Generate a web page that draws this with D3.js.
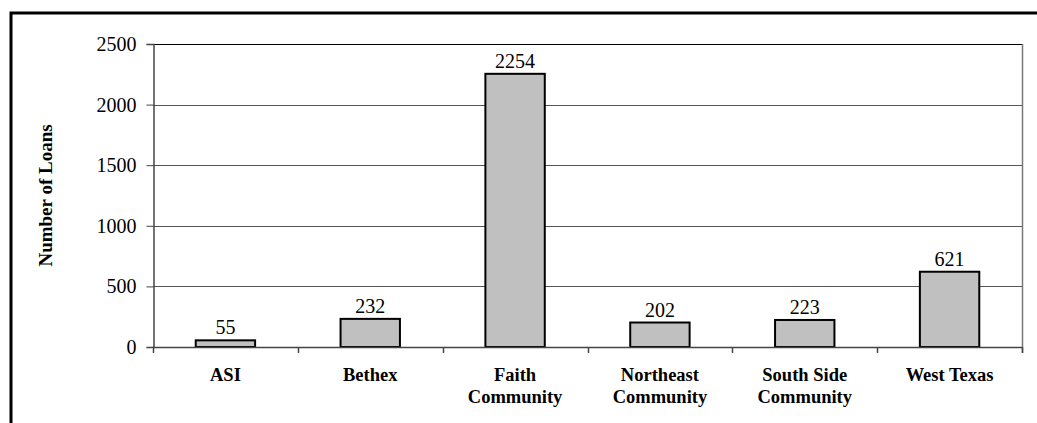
<!DOCTYPE html>
<html>
<head>
<meta charset="utf-8">
<script src="https://cdn.jsdelivr.net/npm/d3@7"></script>
<style>
  body { margin: 0; background: #fff; }
  text { font-family: "Liberation Serif", "Times New Roman", serif; }
</style>
</head>
<body>
<div id="chart"></div>
<script>
var w = 1037;
var h = 423;

// data
var categories = [["ASI"], ["Bethex"], ["Faith", "Community"], ["Northeast", "Community"],
    ["South Side", "Community"], ["West Texas"]];
var loans = [55, 232, 2254, 202, 223, 621];
var yTicks = [0, 500, 1000, 1500, 2000, 2500];

var plotLeft = 153, plotRight = 1022, plotTop = 44, plotBottom = 347;

var svg = d3.select("#chart")
    .append("svg")
    .attr("width", w)
    .attr("height", h);

// outer frame (clipped at right and bottom, like the picture)
svg.append("rect")
    .attr("x", 11).attr("y", 13)
    .attr("width", w + 10).attr("height", h + 10)
    .attr("fill", "none")
    .attr("stroke", "#000")
    .attr("stroke-width", 3);

var x = d3.scaleBand()
    .domain(d3.range(categories.length))
    .range([plotLeft, plotRight])
    .paddingInner(0.59)
    .paddingOuter(0.295);

var y = d3.scaleLinear()
    .domain([0, 2500])
    .range([plotBottom, plotTop]);

// gridlines
svg.selectAll("line.grid")
    .data(yTicks.slice(1))
    .enter()
    .append("line")
    .attr("class", "grid")
    .attr("x1", plotLeft).attr("x2", plotRight)
    .attr("y1", function (d) { return Math.round(y(d)) + 0.5; })
    .attr("y2", function (d) { return Math.round(y(d)) + 0.5; })
    .attr("stroke", function (d) { return d === 2500 ? "#000" : "#555"; })
    .attr("stroke-width", 1);

// right border of plot area
svg.append("line")
    .attr("x1", plotRight + 0.5).attr("x2", plotRight + 0.5)
    .attr("y1", plotTop).attr("y2", plotBottom + 6)
    .attr("stroke", "#777")
    .attr("stroke-width", 1.5);

// bars
svg.selectAll("rect.bar")
    .data(loans)
    .enter()
    .append("rect")
    .attr("class", "bar")
    .attr("x", function (d, i) { return x(i); })
    .attr("y", function (d) { return y(d); })
    .attr("width", x.bandwidth())
    .attr("height", function (d) { return plotBottom - y(d); })
    .attr("fill", "#c0c0c0")
    .attr("stroke", "#000")
    .attr("stroke-width", 2);

// value labels
svg.selectAll("text.val")
    .data(loans)
    .enter()
    .append("text")
    .attr("class", "val")
    .attr("x", function (d, i) { return x(i) + x.bandwidth() / 2; })
    .attr("y", function (d) { return y(d) - 6; })
    .attr("text-anchor", "middle")
    .attr("font-size", 20)
    .text(function (d) { return d; });

// y axis
var yAxis = d3.axisLeft(y)
    .tickValues(yTicks)
    .tickSize(7)
    .tickPadding(10)
    .tickFormat(d3.format("d"));
var gy = svg.append("g")
    .attr("transform", "translate(" + (plotLeft + 0.5) + ",0)")
    .call(yAxis);
gy.select(".domain").attr("stroke", "#444").attr("stroke-width", 1.5);
gy.selectAll(".tick line").attr("stroke", "#444");
gy.selectAll(".tick text")
    .attr("font-size", 20)
    .attr("font-family", "Liberation Serif, Times New Roman, serif")
    .attr("fill", "#000");

// x axis line + ticks between categories
var step = (plotRight - plotLeft) / categories.length;
svg.append("line")
    .attr("x1", plotLeft).attr("x2", plotRight)
    .attr("y1", plotBottom + 0.5).attr("y2", plotBottom + 0.5)
    .attr("stroke", "#444")
    .attr("stroke-width", 1.5);
svg.selectAll("line.xtick")
    .data(d3.range(categories.length + 1))
    .enter()
    .append("line")
    .attr("class", "xtick")
    .attr("x1", function (d) { return Math.round(plotLeft + d * step) + 0.5; })
    .attr("x2", function (d) { return Math.round(plotLeft + d * step) + 0.5; })
    .attr("y1", plotBottom)
    .attr("y2", plotBottom + 6)
    .attr("stroke", "#444")
    .attr("stroke-width", 1.5);

// category labels
var cat = svg.selectAll("text.cat")
    .data(categories)
    .enter()
    .append("text")
    .attr("class", "cat")
    .attr("x", function (d, i) { return x(i) + x.bandwidth() / 2; })
    .attr("y", 381)
    .attr("text-anchor", "middle")
    .attr("font-size", 18.5)
    .attr("font-weight", "bold");
cat.selectAll("tspan")
    .data(function (d) { return d; })
    .enter()
    .append("tspan")
    .attr("x", function () { return d3.select(this.parentNode).attr("x"); })
    .attr("dy", function (d, i) { return i === 0 ? 0 : 22; })
    .text(function (d) { return d; });

// y title
svg.append("text")
    .attr("transform", "translate(52," + ((plotTop + plotBottom) / 2) + ") rotate(-90)")
    .attr("text-anchor", "middle")
    .attr("font-size", 19)
    .attr("font-weight", "bold")
    .text("Number of Loans");
</script>
</body>
</html>
